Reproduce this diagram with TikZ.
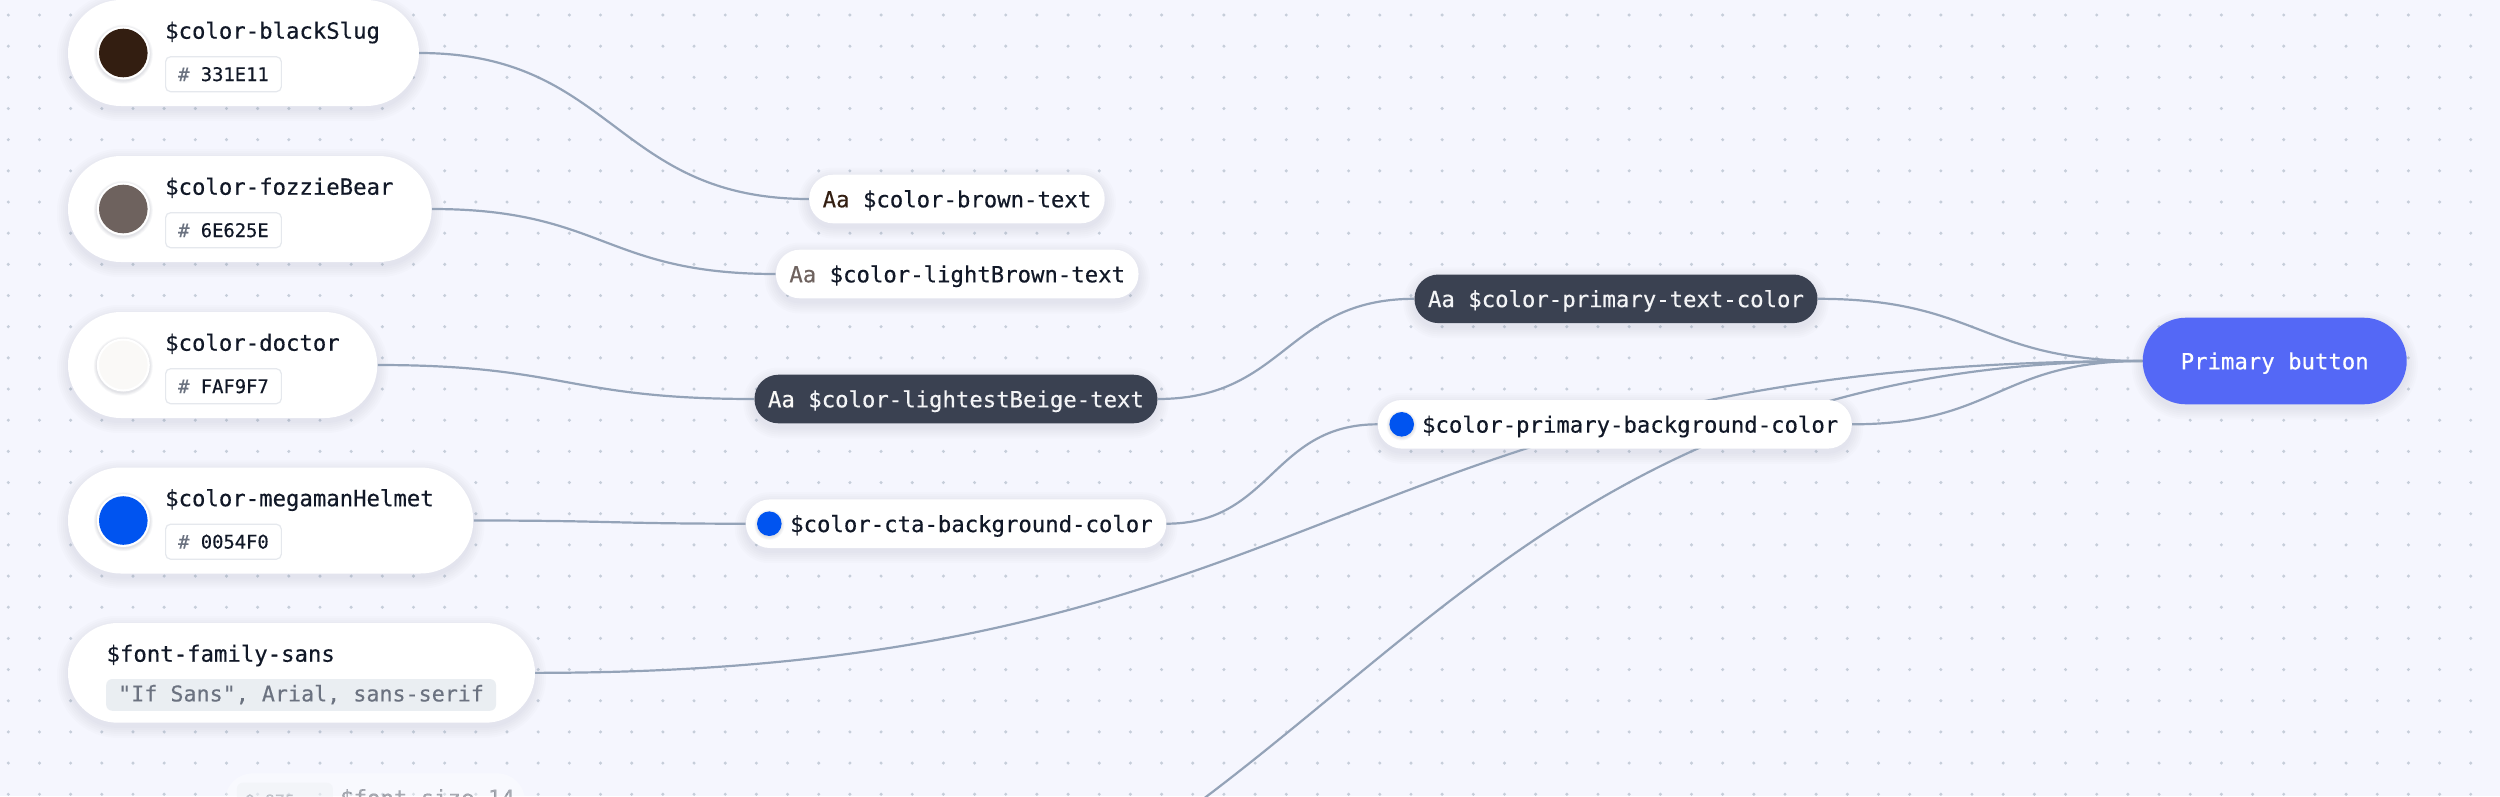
\documentclass[tikz,border=0pt]{standalone}
\usepackage{fontspec}
\setmonofont{DejaVu Sans Mono}[FakeBold=0.4]
\usetikzlibrary{calc}
\definecolor{bgc}{HTML}{F5F6FE}
\definecolor{gridc}{HTML}{C6CEDA}
\definecolor{linec}{HTML}{94A3B8}
\definecolor{darkpill}{HTML}{3A4151}
\definecolor{lighttext}{HTML}{F3F4F6}
\definecolor{titlec}{HTML}{111827}
\definecolor{tagborder}{HTML}{E5E8ED}
\definecolor{hashc}{HTML}{6B7280}
\definecolor{codebg}{HTML}{EAEEF2}
\definecolor{codetext}{HTML}{6B7280}
\definecolor{btnc}{HTML}{5468F6}
\definecolor{shadowc}{HTML}{1E2A4A}
\definecolor{cBlack}{HTML}{331E11}
\definecolor{cFozzie}{HTML}{6E625E}
\definecolor{cDoctor}{HTML}{FAF9F7}
\definecolor{cMega}{HTML}{0054F0}
\pgfdeclarelayer{bglayer}
\pgfdeclarelayer{shadowlayer}
\pgfdeclarelayer{linelayer}
\pgfsetlayers{bglayer,shadowlayer,linelayer,main}
\newcommand\myconn[2]{\draw[connline] let \p1=(#1), \p2=(#2) in (\p1) .. controls ({0.5*\x1+0.5*\x2},\y1) and ({0.5*\x1+0.5*\x2},\y2) .. (\p2);}
% soft shadow under a pill node: #1 node name, #2 corner radius
\newcommand\pillshadow[2]{%
  \foreach \k in {1,3,5,7,9,11}{%
    \fill[shadowc,opacity=0.011,rounded corners={#2+\k}]
      ($(#1.south west)+(-\k,\k+4)$) rectangle ($(#1.north east)+(\k,-\k+4)$);
  }}
% small shadow round a circle: #1 centre, #2 radius
\newcommand\ringshadow[2]{%
  \foreach \k in {0.6,1.4,2.2,3.0}{%
    \fill[shadowc,opacity=0.03] ($#1+(0,1.2)$) circle ({#2+\k});
  }}
\begin{document}
\begin{tikzpicture}[x=1pt,y=-1pt,
  mainfont/.style={font=\ttfamily\fontsize{22.3}{26}\selectfont},
  leftpill/.style={rectangle,fill=white,inner sep=0pt},
  titletext/.style={mainfont,text=titlec,inner sep=0pt},
  hextag/.style={rectangle,fill=white,draw=tagborder,line width=1.2pt,rounded corners=5pt,inner xsep=12.6pt,inner ysep=0pt,minimum height=35pt,text height=13.7pt,text depth=0pt,font=\ttfamily\fontsize{18.8}{22}\selectfont,text=titlec},
  swring/.style={circle,fill=white,inner sep=0pt,minimum size=53pt},
  swfill/.style={circle,inner sep=0pt,minimum size=48.6pt},
  midpill/.style={rectangle,fill=white,rounded corners=24pt,minimum height=48.6pt,inner xsep=13.5pt,inner ysep=0pt,text height=16.6pt,text depth=0pt,mainfont,text=titlec},
  darkpill/.style={midpill,fill=darkpill,text=lighttext},
  bluedot/.style={circle,fill=cMega,inner sep=0pt,minimum size=24.6pt},
  connline/.style={draw=linec,line width=2.2pt},
  codebox/.style={rectangle,fill=codebg,rounded corners=6pt,inner xsep=12pt,inner ysep=0pt,minimum height=31.7pt,text height=13pt,text depth=0pt,font=\ttfamily\fontsize{21.7}{25}\selectfont,text=codetext}
]
\useasboundingbox (0,0) rectangle (2500,796);
\begin{pgfonlayer}{bglayer}
  \fill[bgc] (0,0) rectangle (2500,796);
  \foreach \i in {0,...,80}{
    \foreach \j in {0,...,25}{
      \fill[gridc] (8.3+31.17*\i,15+31.17*\j) circle (1.7pt);
    }
  }
\end{pgfonlayer}

% left token nodes
\node[leftpill,minimum width=351pt,minimum height=106pt,rounded corners=52.9pt] (bs) at (243.5,53) {};
\ringshadow{(123.3,53)}{26.5}
\node[swring] (bs-r) at (123.3,53) {};
\node[swfill,fill=cBlack] (bs-c) at (bs-r) {};
\node[titletext,anchor=base west] (bs-t) at (165,38.7) {\$color-blackSlug};
\node[hextag,anchor=west] (bs-h) at (165,74.2) {{\color{hashc}\#} 331E11};

\node[leftpill,minimum width=363.7pt,minimum height=106pt,rounded corners=52.9pt] (fb) at (249.85,209) {};
\ringshadow{(123.3,209)}{26.5}
\node[swring] (fb-r) at (123.3,209) {};
\node[swfill,fill=cFozzie] (fb-c) at (fb-r) {};
\node[titletext,anchor=base west] (fb-t) at (165,194.7) {\$color-fozzieBear};
\node[hextag,anchor=west] (fb-h) at (165,230.2) {{\color{hashc}\#} 6E625E};

\node[leftpill,minimum width=309.3pt,minimum height=106pt,rounded corners=52.9pt] (dr) at (222.65,365) {};
\ringshadow{(123.3,365)}{26.5}
\node[swring] (dr-r) at (123.3,365) {};
\node[swfill,fill=cDoctor] (dr-c) at (dr-r) {};
\node[titletext,anchor=base west] (dr-t) at (165,350.7) {\$color-doctor};
\node[hextag,anchor=west] (dr-h) at (165,386.2) {{\color{hashc}\#} FAF9F7};

\node[leftpill,minimum width=405.3pt,minimum height=106pt,rounded corners=52.9pt] (mm) at (270.65,520.5) {};
\ringshadow{(123.3,520.5)}{26.5}
\node[swring] (mm-r) at (123.3,520.5) {};
\node[swfill,fill=cMega] (mm-c) at (mm-r) {};
\node[titletext,anchor=base west] (mm-t) at (165,506.2) {\$color-megamanHelmet};
\node[hextag,anchor=west] (mm-h) at (165,541.7) {{\color{hashc}\#} 0054F0};

\node[leftpill,minimum width=467pt,minimum height=99.7pt,rounded corners=49.8pt] (ff) at (301.5,672.85) {};
\node[titletext,anchor=base west] (ff-t) at (106.4,661.7) {\$font-family-sans};
\node[codebox,anchor=west] (ff-c) at (106,694.9) {"If Sans", Arial, sans-serif};

% faded partial node at the bottom
\begin{scope}[opacity=0.35]
\node[rectangle,fill=white,inner sep=0pt,minimum width=300pt,minimum height=56pt,rounded corners=27.9pt] (fs) at (375,801.3) {};
\node[rectangle,fill=codebg,rounded corners=6pt,inner xsep=8pt,inner ysep=0pt,minimum height=36pt,text height=12pt,text depth=0pt,font=\ttfamily\fontsize{16.6}{20}\selectfont,text=codetext,anchor=west] (fs-c) at (236.7,800.7) {0.875rem};
\node[titletext,anchor=base west] (fs-t) at (340,806) {\$font-size-14};
\end{scope}

% middle nodes
\node[midpill,anchor=west] (bt) at (809,199) {{\color{cBlack}Aa} \$color-brown-text};
\node[midpill,anchor=west] (lb) at (775.7,274) {{\color{cFozzie}Aa} \$color-lightBrown-text};
\node[darkpill,anchor=west] (lbe) at (754.3,399) {{\color{cDoctor}Aa} \$color-lightestBeige-text};
\node[midpill,anchor=west] (cta) at (745.7,523.7) {\hspace*{30.8pt}\$color-cta-background-color};
\ringshadow{(769.3,523.7)}{12}
\node[bluedot] (cta-d) at ($(cta.west)+(23.6,0)$) {};
\node[darkpill,anchor=west] (pt) at (1414.3,298.8) {Aa \$color-primary-text-color};
\node[midpill,anchor=west] (pbg) at (1377.6,424.3) {\hspace*{30.8pt}\$color-primary-background-color};
\ringshadow{(1401.7,424.3)}{12}
\node[bluedot] (pbg-d) at ($(pbg.west)+(24.1,0)$) {};

% primary button
\node[rectangle,fill=btnc,rounded corners=43.2pt,minimum width=264pt,minimum height=86.6pt,inner sep=0pt,text height=16.6pt,text depth=0pt,mainfont,text=white] (pb) at (2274.7,361) {Primary button};

\coordinate (offsrc) at (525,1028);

\begin{pgfonlayer}{shadowlayer}
  \pillshadow{bs}{52.9}
  \pillshadow{fb}{52.9}
  \pillshadow{dr}{52.9}
  \pillshadow{mm}{52.9}
  \pillshadow{ff}{49.8}
  \pillshadow{bt}{24}
  \pillshadow{lb}{24}
  \pillshadow{lbe}{24}
  \pillshadow{cta}{24}
  \pillshadow{pt}{24}
  \pillshadow{pbg}{24}
  \pillshadow{pb}{43.2}
\end{pgfonlayer}

\begin{pgfonlayer}{linelayer}
  \begin{scope}
  \clip (0,0) rectangle (2500,796);
  \myconn{bs.east}{bt.west}
  \myconn{fb.east}{lb.west}
  \myconn{dr.east}{lbe.west}
  \myconn{mm.east}{cta.west}
  \myconn{lbe.east}{pt.west}
  \myconn{cta.east}{pbg.west}
  \myconn{pt.east}{pb.west}
  \myconn{pbg.east}{pb.west}
  \myconn{ff.east}{pb.west}
  \myconn{offsrc}{pb.west}
  \end{scope}
\end{pgfonlayer}
\end{tikzpicture}
\end{document}
